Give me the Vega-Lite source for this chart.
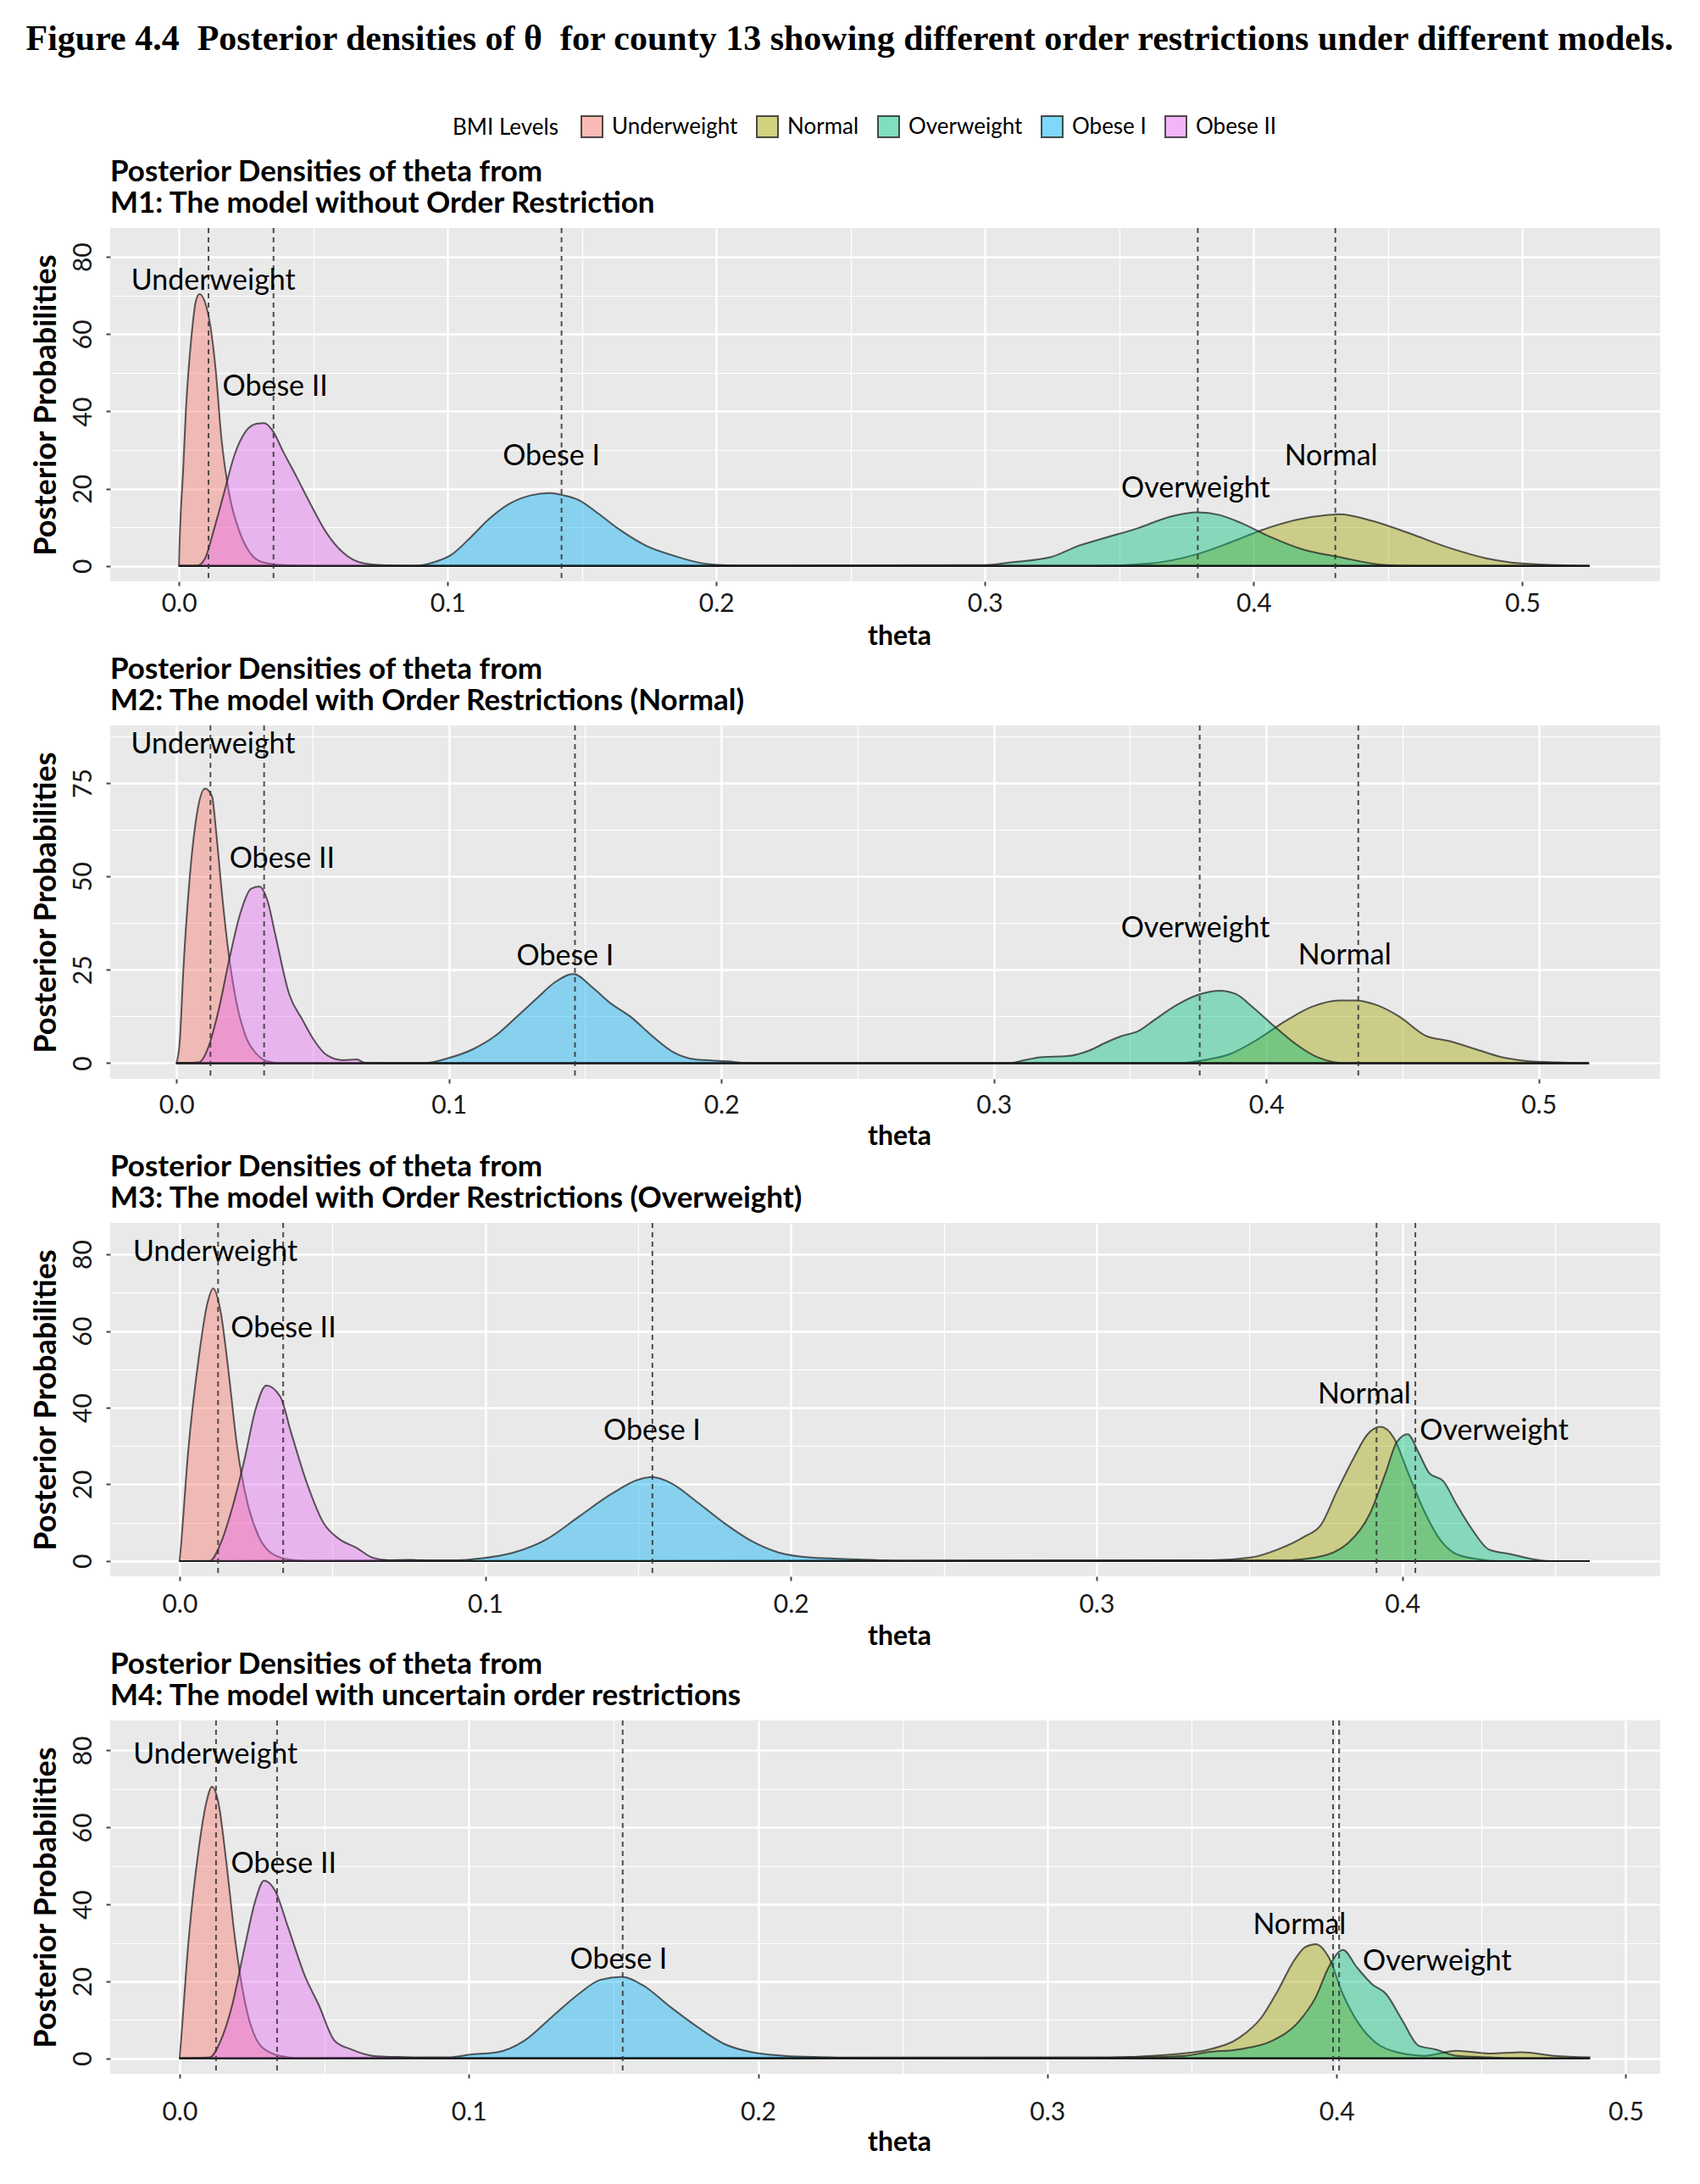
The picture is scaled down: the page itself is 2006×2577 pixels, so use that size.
{
  "$schema": "https://vega.github.io/schema/vega-lite/v6.json",
  "padding": {"left": 28, "top": 25, "right": 10, "bottom": 10},
  "background": "white",
  "title": {
    "text": "Figure 4.4\u00a0 Posterior densities of θ\u00a0 for county 13 showing different order restrictions under different models.",
    "font": "Liberation Serif",
    "fontSize": 42,
    "fontWeight": "bold",
    "color": "black",
    "anchor": "middle",
    "frame": "group",
    "dx": -42,
    "offset": 68
  },
  "spacing": 170,
  "bounds": "flush",
  "config": {
    "font": "Lato",
    "view": {"fill": "#E9E9E9", "stroke": null},
    "axis": {
      "domain": false,
      "gridColor": "#FFFFFF",
      "gridWidth": 2.4,
      "tickColor": "#444444",
      "tickSize": 5,
      "tickWidth": 2,
      "labelColor": "#1a1a1a",
      "labelFont": "Lato",
      "titleFont": "Lato",
      "titleFontWeight": "bold",
      "titleColor": "#000000"
    },
    "axisX": {"labelFontSize": 30, "labelPadding": 6, "titleFontSize": 32, "titlePadding": 8, "titleX": 931, "titleAlign": "center"},
    "axisY": {"labelFontSize": 30, "labelAngle": 270, "labelAlign": "center", "labelBaseline": "bottom", "labelPadding": 12, "titleFontSize": 36, "titlePadding": 10},
    "title": {"anchor": "start", "frame": "group", "fontSize": 35, "fontWeight": "bold", "font": "Lato", "color": "#000000", "lineHeight": 37, "offset": 10},
    "legend": {
      "direction": "horizontal",
      "titleOrient": "left",
      "titleFontSize": 26,
      "titleFontWeight": "normal",
      "titleColor": "#000000",
      "titleFont": "Lato",
      "titlePadding": 26,
      "labelFontSize": 26,
      "labelColor": "#000000",
      "labelFont": "Lato",
      "symbolType": "square",
      "symbolSize": 625,
      "symbolOpacity": 0.5,
      "symbolStrokeColor": "#222222",
      "symbolStrokeWidth": 2,
      "labelOffset": 10,
      "columnPadding": 18
    }
  },
  "datasets": {
    "dens": [
      {"model":"M1","level":"Underweight","theta":0,"density":0},
      {"model":"M1","level":"Underweight","theta":0.0002,"density":5.2},
      {"model":"M1","level":"Underweight","theta":0.0016,"density":25.4},
      {"model":"M1","level":"Underweight","theta":0.0026,"density":40.5},
      {"model":"M1","level":"Underweight","theta":0.0046,"density":59},
      {"model":"M1","level":"Underweight","theta":0.0062,"density":68.3},
      {"model":"M1","level":"Underweight","theta":0.0076,"density":70.4},
      {"model":"M1","level":"Underweight","theta":0.0107,"density":65.8},
      {"model":"M1","level":"Underweight","theta":0.0137,"density":50.6},
      {"model":"M1","level":"Underweight","theta":0.0157,"density":33.8},
      {"model":"M1","level":"Underweight","theta":0.0187,"density":18.7},
      {"model":"M1","level":"Underweight","theta":0.0227,"density":8.6},
      {"model":"M1","level":"Underweight","theta":0.0268,"density":3.1},
      {"model":"M1","level":"Underweight","theta":0.031,"density":1.0},
      {"model":"M1","level":"Underweight","theta":0.039,"density":0.2},
      {"model":"M1","level":"Underweight","theta":0.05,"density":0},
      {"model":"M1","level":"Underweight","theta":0.525,"density":0},

      {"model":"M1","level":"Normal","theta":0,"density":0},
      {"model":"M1","level":"Normal","theta":0.3408,"density":0},
      {"model":"M1","level":"Normal","theta":0.361,"density":0.6},
      {"model":"M1","level":"Normal","theta":0.3792,"density":3.1},
      {"model":"M1","level":"Normal","theta":0.3914,"density":6.1},
      {"model":"M1","level":"Normal","theta":0.4035,"density":9.4},
      {"model":"M1","level":"Normal","theta":0.4157,"density":11.9},
      {"model":"M1","level":"Normal","theta":0.4278,"density":13.2},
      {"model":"M1","level":"Normal","theta":0.4319,"density":13.4},
      {"model":"M1","level":"Normal","theta":0.444,"density":11.7},
      {"model":"M1","level":"Normal","theta":0.4582,"density":8.4},
      {"model":"M1","level":"Normal","theta":0.4723,"density":4.8},
      {"model":"M1","level":"Normal","theta":0.4865,"density":2.0},
      {"model":"M1","level":"Normal","theta":0.4987,"density":0.7},
      {"model":"M1","level":"Normal","theta":0.5128,"density":0.2},
      {"model":"M1","level":"Normal","theta":0.525,"density":0},

      {"model":"M1","level":"Overweight","theta":0,"density":0},
      {"model":"M1","level":"Overweight","theta":0.30,"density":0.2},
      {"model":"M1","level":"Overweight","theta":0.3104,"density":1.0},
      {"model":"M1","level":"Overweight","theta":0.3246,"density":2.3},
      {"model":"M1","level":"Overweight","theta":0.3347,"density":5.2},
      {"model":"M1","level":"Overweight","theta":0.3448,"density":7.3},
      {"model":"M1","level":"Overweight","theta":0.357,"density":9.8},
      {"model":"M1","level":"Overweight","theta":0.3691,"density":12.8},
      {"model":"M1","level":"Overweight","theta":0.3792,"density":13.9},
      {"model":"M1","level":"Overweight","theta":0.3873,"density":13.2},
      {"model":"M1","level":"Overweight","theta":0.3954,"density":11.1},
      {"model":"M1","level":"Overweight","theta":0.4056,"density":7.7},
      {"model":"M1","level":"Overweight","theta":0.4177,"density":4.4},
      {"model":"M1","level":"Overweight","theta":0.4319,"density":2.3},
      {"model":"M1","level":"Overweight","theta":0.448,"density":0.3},
      {"model":"M1","level":"Overweight","theta":0.46,"density":0},
      {"model":"M1","level":"Overweight","theta":0.525,"density":0},

      {"model":"M1","level":"Obese I","theta":0,"density":0},
      {"model":"M1","level":"Obese I","theta":0.087,"density":0},
      {"model":"M1","level":"Obese I","theta":0.095,"density":1.0},
      {"model":"M1","level":"Obese I","theta":0.101,"density":2.7},
      {"model":"M1","level":"Obese I","theta":0.109,"density":7.7},
      {"model":"M1","level":"Obese I","theta":0.115,"density":11.9},
      {"model":"M1","level":"Obese I","theta":0.123,"density":16.1},
      {"model":"M1","level":"Obese I","theta":0.131,"density":18.3},
      {"model":"M1","level":"Obese I","theta":0.138,"density":18.9},
      {"model":"M1","level":"Obese I","theta":0.143,"density":18.3},
      {"model":"M1","level":"Obese I","theta":0.149,"density":17.0},
      {"model":"M1","level":"Obese I","theta":0.156,"density":13.6},
      {"model":"M1","level":"Obese I","theta":0.164,"density":9.4},
      {"model":"M1","level":"Obese I","theta":0.174,"density":5.2},
      {"model":"M1","level":"Obese I","theta":0.184,"density":2.7},
      {"model":"M1","level":"Obese I","theta":0.194,"density":0.8},
      {"model":"M1","level":"Obese I","theta":0.202,"density":0.2},
      {"model":"M1","level":"Obese I","theta":0.21,"density":0},
      {"model":"M1","level":"Obese I","theta":0.525,"density":0},

      {"model":"M1","level":"Obese II","theta":0,"density":0},
      {"model":"M1","level":"Obese II","theta":0.0066,"density":0},
      {"model":"M1","level":"Obese II","theta":0.0097,"density":1.9},
      {"model":"M1","level":"Obese II","theta":0.0127,"density":8.6},
      {"model":"M1","level":"Obese II","theta":0.0167,"density":18.7},
      {"model":"M1","level":"Obese II","theta":0.0207,"density":28.8},
      {"model":"M1","level":"Obese II","theta":0.0247,"density":34.7},
      {"model":"M1","level":"Obese II","theta":0.0288,"density":36.8},
      {"model":"M1","level":"Obese II","theta":0.0318,"density":37.0},
      {"model":"M1","level":"Obese II","theta":0.0348,"density":35.1},
      {"model":"M1","level":"Obese II","theta":0.0388,"density":29.6},
      {"model":"M1","level":"Obese II","theta":0.0439,"density":22.9},
      {"model":"M1","level":"Obese II","theta":0.0489,"density":16.1},
      {"model":"M1","level":"Obese II","theta":0.0549,"density":8.6},
      {"model":"M1","level":"Obese II","theta":0.061,"density":3.5},
      {"model":"M1","level":"Obese II","theta":0.067,"density":1.0},
      {"model":"M1","level":"Obese II","theta":0.075,"density":0.2},
      {"model":"M1","level":"Obese II","theta":0.085,"density":0},
      {"model":"M1","level":"Obese II","theta":0.525,"density":0},

      {"model":"M2","level":"Underweight","theta":0,"density":0},
      {"model":"M2","level":"Underweight","theta":0.0012,"density":5.5},
      {"model":"M2","level":"Underweight","theta":0.0026,"density":25.5},
      {"model":"M2","level":"Underweight","theta":0.0046,"density":47.1},
      {"model":"M2","level":"Underweight","theta":0.0076,"density":67.0},
      {"model":"M2","level":"Underweight","theta":0.0105,"density":73.5},
      {"model":"M2","level":"Underweight","theta":0.0131,"density":71.4},
      {"model":"M2","level":"Underweight","theta":0.0145,"density":62.7},
      {"model":"M2","level":"Underweight","theta":0.0165,"density":47.1},
      {"model":"M2","level":"Underweight","theta":0.0191,"density":29.8},
      {"model":"M2","level":"Underweight","theta":0.0219,"density":16.8},
      {"model":"M2","level":"Underweight","theta":0.0254,"density":7.3},
      {"model":"M2","level":"Underweight","theta":0.0294,"density":2.5},
      {"model":"M2","level":"Underweight","theta":0.0334,"density":0.5},
      {"model":"M2","level":"Underweight","theta":0.038,"density":0},
      {"model":"M2","level":"Underweight","theta":0.5185,"density":0},

      {"model":"M2","level":"Normal","theta":0,"density":0},
      {"model":"M2","level":"Normal","theta":0.367,"density":0},
      {"model":"M2","level":"Normal","theta":0.377,"density":0.8},
      {"model":"M2","level":"Normal","theta":0.3869,"density":2.5},
      {"model":"M2","level":"Normal","theta":0.3969,"density":6.4},
      {"model":"M2","level":"Normal","theta":0.4069,"density":11.2},
      {"model":"M2","level":"Normal","theta":0.4168,"density":15.1},
      {"model":"M2","level":"Normal","theta":0.4268,"density":16.8},
      {"model":"M2","level":"Normal","theta":0.4328,"density":16.8},
      {"model":"M2","level":"Normal","theta":0.4408,"density":15.5},
      {"model":"M2","level":"Normal","theta":0.4488,"density":12.5},
      {"model":"M2","level":"Normal","theta":0.4587,"density":7.3},
      {"model":"M2","level":"Normal","theta":0.4667,"density":6.0},
      {"model":"M2","level":"Normal","theta":0.4767,"density":3.8},
      {"model":"M2","level":"Normal","theta":0.4866,"density":1.6},
      {"model":"M2","level":"Normal","theta":0.4966,"density":0.5},
      {"model":"M2","level":"Normal","theta":0.5066,"density":0.2},
      {"model":"M2","level":"Normal","theta":0.5185,"density":0},

      {"model":"M2","level":"Overweight","theta":0,"density":0},
      {"model":"M2","level":"Overweight","theta":0.3052,"density":0},
      {"model":"M2","level":"Overweight","theta":0.3112,"density":0.8},
      {"model":"M2","level":"Overweight","theta":0.3171,"density":1.6},
      {"model":"M2","level":"Overweight","theta":0.3271,"density":1.9},
      {"model":"M2","level":"Overweight","theta":0.3351,"density":3.4},
      {"model":"M2","level":"Overweight","theta":0.3411,"density":5.5},
      {"model":"M2","level":"Overweight","theta":0.3471,"density":7.3},
      {"model":"M2","level":"Overweight","theta":0.353,"density":8.6},
      {"model":"M2","level":"Overweight","theta":0.359,"density":11.6},
      {"model":"M2","level":"Overweight","theta":0.367,"density":15.5},
      {"model":"M2","level":"Overweight","theta":0.375,"density":18.3},
      {"model":"M2","level":"Overweight","theta":0.383,"density":19.4},
      {"model":"M2","level":"Overweight","theta":0.3889,"density":18.5},
      {"model":"M2","level":"Overweight","theta":0.3949,"density":15.1},
      {"model":"M2","level":"Overweight","theta":0.4029,"density":9.9},
      {"model":"M2","level":"Overweight","theta":0.4109,"density":5.1},
      {"model":"M2","level":"Overweight","theta":0.4188,"density":1.6},
      {"model":"M2","level":"Overweight","theta":0.4248,"density":0.3},
      {"model":"M2","level":"Overweight","theta":0.43,"density":0},
      {"model":"M2","level":"Overweight","theta":0.5185,"density":0},

      {"model":"M2","level":"Obese I","theta":0,"density":0},
      {"model":"M2","level":"Obese I","theta":0.091,"density":0},
      {"model":"M2","level":"Obese I","theta":0.099,"density":1.2},
      {"model":"M2","level":"Obese I","theta":0.109,"density":3.8},
      {"model":"M2","level":"Obese I","theta":0.117,"density":7.3},
      {"model":"M2","level":"Obese I","theta":0.125,"density":12.5},
      {"model":"M2","level":"Obese I","theta":0.1328,"density":17.7},
      {"model":"M2","level":"Obese I","theta":0.1388,"density":21.6},
      {"model":"M2","level":"Obese I","theta":0.1457,"density":23.9},
      {"model":"M2","level":"Obese I","theta":0.1527,"density":20.3},
      {"model":"M2","level":"Obese I","theta":0.1596,"density":15.9},
      {"model":"M2","level":"Obese I","theta":0.1666,"density":12.5},
      {"model":"M2","level":"Obese I","theta":0.1746,"density":7.3},
      {"model":"M2","level":"Obese I","theta":0.1825,"density":2.9},
      {"model":"M2","level":"Obese I","theta":0.1905,"density":1.0},
      {"model":"M2","level":"Obese I","theta":0.2024,"density":0.5},
      {"model":"M2","level":"Obese I","theta":0.21,"density":0},
      {"model":"M2","level":"Obese I","theta":0.5185,"density":0},

      {"model":"M2","level":"Obese II","theta":0,"density":0},
      {"model":"M2","level":"Obese II","theta":0.0085,"density":0.3},
      {"model":"M2","level":"Obese II","theta":0.0115,"density":3.8},
      {"model":"M2","level":"Obese II","theta":0.0155,"density":14.2},
      {"model":"M2","level":"Obese II","theta":0.0195,"density":28.1},
      {"model":"M2","level":"Obese II","theta":0.0235,"density":40.2},
      {"model":"M2","level":"Obese II","theta":0.0274,"density":46.7},
      {"model":"M2","level":"Obese II","theta":0.0304,"density":47.3},
      {"model":"M2","level":"Obese II","theta":0.0334,"density":43.6},
      {"model":"M2","level":"Obese II","theta":0.0364,"density":34.1},
      {"model":"M2","level":"Obese II","theta":0.0414,"density":18.5},
      {"model":"M2","level":"Obese II","theta":0.0463,"density":11.6},
      {"model":"M2","level":"Obese II","theta":0.0503,"density":6.4},
      {"model":"M2","level":"Obese II","theta":0.0553,"density":2.1},
      {"model":"M2","level":"Obese II","theta":0.0612,"density":0.8},
      {"model":"M2","level":"Obese II","theta":0.0662,"density":1.0},
      {"model":"M2","level":"Obese II","theta":0.0692,"density":0.1},
      {"model":"M2","level":"Obese II","theta":0.075,"density":0},
      {"model":"M2","level":"Obese II","theta":0.5185,"density":0},

      {"model":"M3","level":"Underweight","theta":0,"density":0},
      {"model":"M3","level":"Underweight","theta":0.0004,"density":3.5},
      {"model":"M3","level":"Underweight","theta":0.0028,"density":28.4},
      {"model":"M3","level":"Underweight","theta":0.0064,"density":53.8},
      {"model":"M3","level":"Underweight","theta":0.0089,"density":66.5},
      {"model":"M3","level":"Underweight","theta":0.011,"density":71.1},
      {"model":"M3","level":"Underweight","theta":0.0135,"density":64.8},
      {"model":"M3","level":"Underweight","theta":0.016,"density":49.6},
      {"model":"M3","level":"Underweight","theta":0.0188,"density":30.1},
      {"model":"M3","level":"Underweight","theta":0.0223,"density":14.9},
      {"model":"M3","level":"Underweight","theta":0.0259,"density":6.4},
      {"model":"M3","level":"Underweight","theta":0.0305,"density":1.8},
      {"model":"M3","level":"Underweight","theta":0.0365,"density":0.3},
      {"model":"M3","level":"Underweight","theta":0.042,"density":0},
      {"model":"M3","level":"Underweight","theta":0.4613,"density":0},

      {"model":"M3","level":"Normal","theta":0,"density":0},
      {"model":"M3","level":"Normal","theta":0.338,"density":0.2},
      {"model":"M3","level":"Normal","theta":0.3504,"density":0.9},
      {"model":"M3","level":"Normal","theta":0.3592,"density":3.0},
      {"model":"M3","level":"Normal","theta":0.3681,"density":6.4},
      {"model":"M3","level":"Normal","theta":0.3734,"density":9.4},
      {"model":"M3","level":"Normal","theta":0.3787,"density":18.3},
      {"model":"M3","level":"Normal","theta":0.384,"density":26.7},
      {"model":"M3","level":"Normal","theta":0.3887,"density":33.1},
      {"model":"M3","level":"Normal","theta":0.3929,"density":35.0},
      {"model":"M3","level":"Normal","theta":0.3972,"density":32.2},
      {"model":"M3","level":"Normal","theta":0.4018,"density":23.3},
      {"model":"M3","level":"Normal","theta":0.4071,"density":13.2},
      {"model":"M3","level":"Normal","theta":0.4124,"density":5.6},
      {"model":"M3","level":"Normal","theta":0.4177,"density":1.8},
      {"model":"M3","level":"Normal","theta":0.4248,"density":0.5},
      {"model":"M3","level":"Normal","theta":0.432,"density":0},
      {"model":"M3","level":"Normal","theta":0.4613,"density":0},

      {"model":"M3","level":"Overweight","theta":0,"density":0},
      {"model":"M3","level":"Overweight","theta":0.361,"density":0.2},
      {"model":"M3","level":"Overweight","theta":0.3716,"density":0.9},
      {"model":"M3","level":"Overweight","theta":0.3823,"density":4.7},
      {"model":"M3","level":"Overweight","theta":0.3894,"density":12.3},
      {"model":"M3","level":"Overweight","theta":0.3947,"density":23.3},
      {"model":"M3","level":"Overweight","theta":0.3982,"density":31.0},
      {"model":"M3","level":"Overweight","theta":0.4018,"density":33.1},
      {"model":"M3","level":"Overweight","theta":0.4053,"density":28.4},
      {"model":"M3","level":"Overweight","theta":0.4089,"density":22.9},
      {"model":"M3","level":"Overweight","theta":0.4135,"density":20.8},
      {"model":"M3","level":"Overweight","theta":0.4177,"density":14.9},
      {"model":"M3","level":"Overweight","theta":0.423,"density":8.1},
      {"model":"M3","level":"Overweight","theta":0.4284,"density":3.0},
      {"model":"M3","level":"Overweight","theta":0.4355,"density":1.8},
      {"model":"M3","level":"Overweight","theta":0.4426,"density":0.5},
      {"model":"M3","level":"Overweight","theta":0.448,"density":0},
      {"model":"M3","level":"Overweight","theta":0.4613,"density":0},

      {"model":"M3","level":"Obese I","theta":0,"density":0},
      {"model":"M3","level":"Obese I","theta":0.0915,"density":0.2},
      {"model":"M3","level":"Obese I","theta":0.0986,"density":0.7},
      {"model":"M3","level":"Obese I","theta":0.1092,"density":2.2},
      {"model":"M3","level":"Obese I","theta":0.1199,"density":5.6},
      {"model":"M3","level":"Obese I","theta":0.1305,"density":11.5},
      {"model":"M3","level":"Obese I","theta":0.1411,"density":17.4},
      {"model":"M3","level":"Obese I","theta":0.15,"density":21.2},
      {"model":"M3","level":"Obese I","theta":0.1546,"density":21.9},
      {"model":"M3","level":"Obese I","theta":0.1606,"density":20.4},
      {"model":"M3","level":"Obese I","theta":0.1695,"density":15.3},
      {"model":"M3","level":"Obese I","theta":0.1784,"density":9.8},
      {"model":"M3","level":"Obese I","theta":0.1872,"density":5.2},
      {"model":"M3","level":"Obese I","theta":0.1961,"density":2.2},
      {"model":"M3","level":"Obese I","theta":0.2067,"density":0.9},
      {"model":"M3","level":"Obese I","theta":0.2191,"density":0.5},
      {"model":"M3","level":"Obese I","theta":0.2262,"density":0.3},
      {"model":"M3","level":"Obese I","theta":0.235,"density":0},
      {"model":"M3","level":"Obese I","theta":0.4613,"density":0},

      {"model":"M3","level":"Obese II","theta":0,"density":0},
      {"model":"M3","level":"Obese II","theta":0.0099,"density":0},
      {"model":"M3","level":"Obese II","theta":0.0135,"density":4.7},
      {"model":"M3","level":"Obese II","theta":0.017,"density":13.2},
      {"model":"M3","level":"Obese II","theta":0.0213,"density":26.7},
      {"model":"M3","level":"Obese II","theta":0.0248,"density":39.4},
      {"model":"M3","level":"Obese II","theta":0.0284,"density":45.8},
      {"model":"M3","level":"Obese II","theta":0.033,"density":42.8},
      {"model":"M3","level":"Obese II","theta":0.0365,"density":33.5},
      {"model":"M3","level":"Obese II","theta":0.0418,"density":20.0},
      {"model":"M3","level":"Obese II","theta":0.0472,"density":9.8},
      {"model":"M3","level":"Obese II","theta":0.0525,"density":5.6},
      {"model":"M3","level":"Obese II","theta":0.0578,"density":3.5},
      {"model":"M3","level":"Obese II","theta":0.0631,"density":0.9},
      {"model":"M3","level":"Obese II","theta":0.0684,"density":0.2},
      {"model":"M3","level":"Obese II","theta":0.0755,"density":0.3},
      {"model":"M3","level":"Obese II","theta":0.082,"density":0},
      {"model":"M3","level":"Obese II","theta":0.4613,"density":0},

      {"model":"M4","level":"Underweight","theta":0,"density":0},
      {"model":"M4","level":"Underweight","theta":0.0004,"density":3.7},
      {"model":"M4","level":"Underweight","theta":0.003,"density":29.7},
      {"model":"M4","level":"Underweight","theta":0.0067,"density":54.9},
      {"model":"M4","level":"Underweight","theta":0.0094,"density":67.0},
      {"model":"M4","level":"Underweight","theta":0.0112,"density":70.6},
      {"model":"M4","level":"Underweight","theta":0.0135,"density":66.1},
      {"model":"M4","level":"Underweight","theta":0.0161,"density":51.4},
      {"model":"M4","level":"Underweight","theta":0.0191,"density":31.5},
      {"model":"M4","level":"Underweight","theta":0.0225,"density":15.0},
      {"model":"M4","level":"Underweight","theta":0.0262,"density":5.5},
      {"model":"M4","level":"Underweight","theta":0.0311,"density":1.6},
      {"model":"M4","level":"Underweight","theta":0.0375,"density":0.3},
      {"model":"M4","level":"Underweight","theta":0.042,"density":0},
      {"model":"M4","level":"Underweight","theta":0.4875,"density":0},

      {"model":"M4","level":"Normal","theta":0,"density":0},
      {"model":"M4","level":"Normal","theta":0.3141,"density":0.1},
      {"model":"M4","level":"Normal","theta":0.3291,"density":0.4},
      {"model":"M4","level":"Normal","theta":0.3441,"density":1.1},
      {"model":"M4","level":"Normal","theta":0.3553,"density":2.2},
      {"model":"M4","level":"Normal","theta":0.3666,"density":5.5},
      {"model":"M4","level":"Normal","theta":0.3741,"density":10.7},
      {"model":"M4","level":"Normal","theta":0.3797,"density":17.6},
      {"model":"M4","level":"Normal","theta":0.3853,"density":25.4},
      {"model":"M4","level":"Normal","theta":0.3891,"density":28.9},
      {"model":"M4","level":"Normal","theta":0.3928,"density":29.7},
      {"model":"M4","level":"Normal","theta":0.3973,"density":26.3},
      {"model":"M4","level":"Normal","theta":0.4022,"density":16.7},
      {"model":"M4","level":"Normal","theta":0.4078,"density":8.9},
      {"model":"M4","level":"Normal","theta":0.4134,"density":4.2},
      {"model":"M4","level":"Normal","theta":0.4209,"density":1.6},
      {"model":"M4","level":"Normal","theta":0.4303,"density":0.7},
      {"model":"M4","level":"Normal","theta":0.4415,"density":2.0},
      {"model":"M4","level":"Normal","theta":0.4528,"density":1.3},
      {"model":"M4","level":"Normal","theta":0.464,"density":1.6},
      {"model":"M4","level":"Normal","theta":0.4753,"density":0.7},
      {"model":"M4","level":"Normal","theta":0.4875,"density":0.3},

      {"model":"M4","level":"Overweight","theta":0,"density":0},
      {"model":"M4","level":"Overweight","theta":0.3328,"density":0.3},
      {"model":"M4","level":"Overweight","theta":0.3478,"density":0.7},
      {"model":"M4","level":"Overweight","theta":0.3553,"density":1.6},
      {"model":"M4","level":"Overweight","theta":0.3666,"density":2.4},
      {"model":"M4","level":"Overweight","theta":0.3778,"density":4.6},
      {"model":"M4","level":"Overweight","theta":0.3872,"density":9.8},
      {"model":"M4","level":"Overweight","theta":0.3928,"density":15.9},
      {"model":"M4","level":"Overweight","theta":0.3973,"density":23.7},
      {"model":"M4","level":"Overweight","theta":0.4022,"density":28.2},
      {"model":"M4","level":"Overweight","theta":0.407,"density":23.7},
      {"model":"M4","level":"Overweight","theta":0.4123,"density":19.3},
      {"model":"M4","level":"Overweight","theta":0.4172,"density":16.7},
      {"model":"M4","level":"Overweight","theta":0.4228,"density":9.8},
      {"model":"M4","level":"Overweight","theta":0.4284,"density":3.3},
      {"model":"M4","level":"Overweight","theta":0.434,"density":2.4},
      {"model":"M4","level":"Overweight","theta":0.4415,"density":0.7},
      {"model":"M4","level":"Overweight","theta":0.4528,"density":0.3},
      {"model":"M4","level":"Overweight","theta":0.46,"density":0},
      {"model":"M4","level":"Overweight","theta":0.4875,"density":0},

      {"model":"M4","level":"Obese I","theta":0,"density":0},
      {"model":"M4","level":"Obese I","theta":0.093,"density":0.3},
      {"model":"M4","level":"Obese I","theta":0.1005,"density":1.0},
      {"model":"M4","level":"Obese I","theta":0.1098,"density":1.6},
      {"model":"M4","level":"Obese I","theta":0.1192,"density":4.6},
      {"model":"M4","level":"Obese I","theta":0.1286,"density":10.7},
      {"model":"M4","level":"Obese I","theta":0.1379,"density":16.7},
      {"model":"M4","level":"Obese I","theta":0.1454,"density":20.4},
      {"model":"M4","level":"Obese I","theta":0.1529,"density":21.2},
      {"model":"M4","level":"Obese I","theta":0.1604,"density":18.9},
      {"model":"M4","level":"Obese I","theta":0.1698,"density":13.3},
      {"model":"M4","level":"Obese I","theta":0.1792,"density":8.1},
      {"model":"M4","level":"Obese I","theta":0.1885,"density":3.7},
      {"model":"M4","level":"Obese I","theta":0.1979,"density":1.6},
      {"model":"M4","level":"Obese I","theta":0.2091,"density":0.7},
      {"model":"M4","level":"Obese I","theta":0.2241,"density":0.3},
      {"model":"M4","level":"Obese I","theta":0.235,"density":0},
      {"model":"M4","level":"Obese I","theta":0.4875,"density":0},

      {"model":"M4","level":"Obese II","theta":0,"density":0},
      {"model":"M4","level":"Obese II","theta":0.0105,"density":0.3},
      {"model":"M4","level":"Obese II","theta":0.0142,"density":4.6},
      {"model":"M4","level":"Obese II","theta":0.018,"density":13.3},
      {"model":"M4","level":"Obese II","theta":0.0225,"density":28.9},
      {"model":"M4","level":"Obese II","theta":0.0262,"density":41.0},
      {"model":"M4","level":"Obese II","theta":0.0292,"density":46.2},
      {"model":"M4","level":"Obese II","theta":0.033,"density":43.6},
      {"model":"M4","level":"Obese II","theta":0.0375,"density":34.1},
      {"model":"M4","level":"Obese II","theta":0.0435,"density":21.1},
      {"model":"M4","level":"Obese II","theta":0.048,"density":14.1},
      {"model":"M4","level":"Obese II","theta":0.0536,"density":4.6},
      {"model":"M4","level":"Obese II","theta":0.0592,"density":2.4},
      {"model":"M4","level":"Obese II","theta":0.0667,"density":0.7},
      {"model":"M4","level":"Obese II","theta":0.078,"density":0.3},
      {"model":"M4","level":"Obese II","theta":0.09,"density":0},
      {"model":"M4","level":"Obese II","theta":0.4875,"density":0}
    ],
    "means": [
      {"model":"M1","level":"Underweight","theta":0.011},
      {"model":"M1","level":"Obese II","theta":0.0352},
      {"model":"M1","level":"Obese I","theta":0.1424},
      {"model":"M1","level":"Overweight","theta":0.3792},
      {"model":"M1","level":"Normal","theta":0.4304},
      {"model":"M2","level":"Underweight","theta":0.0125},
      {"model":"M2","level":"Obese II","theta":0.0322},
      {"model":"M2","level":"Obese I","theta":0.1463},
      {"model":"M2","level":"Overweight","theta":0.3756},
      {"model":"M2","level":"Normal","theta":0.4338},
      {"model":"M3","level":"Underweight","theta":0.0126},
      {"model":"M3","level":"Obese II","theta":0.0339},
      {"model":"M3","level":"Obese I","theta":0.1547},
      {"model":"M3","level":"Normal","theta":0.3916},
      {"model":"M3","level":"Overweight","theta":0.4043},
      {"model":"M4","level":"Underweight","theta":0.0126},
      {"model":"M4","level":"Obese II","theta":0.0337},
      {"model":"M4","level":"Obese I","theta":0.1532},
      {"model":"M4","level":"Normal","theta":0.3988},
      {"model":"M4","level":"Overweight","theta":0.4009}
    ],
    "labels": [
      {"model":"M1","level":"Underweight","theta":0.0128,"ypos":73.7},
      {"model":"M1","level":"Obese II","theta":0.0358,"ypos":46.2},
      {"model":"M1","level":"Obese I","theta":0.1386,"ypos":28.2},
      {"model":"M1","level":"Overweight","theta":0.3784,"ypos":20.0},
      {"model":"M1","level":"Normal","theta":0.4288,"ypos":28.2},
      {"model":"M2","level":"Underweight","theta":0.0135,"ypos":85.1},
      {"model":"M2","level":"Obese II","theta":0.0388,"ypos":54.6},
      {"model":"M2","level":"Obese I","theta":0.1427,"ypos":28.4},
      {"model":"M2","level":"Overweight","theta":0.374,"ypos":36.0},
      {"model":"M2","level":"Normal","theta":0.4288,"ypos":28.6},
      {"model":"M3","level":"Underweight","theta":0.0117,"ypos":80.4},
      {"model":"M3","level":"Obese II","theta":0.034,"ypos":60.5},
      {"model":"M3","level":"Obese I","theta":0.1546,"ypos":33.9},
      {"model":"M3","level":"Normal","theta":0.3876,"ypos":43.4},
      {"model":"M3","level":"Overweight","theta":0.4301,"ypos":33.7},
      {"model":"M4","level":"Underweight","theta":0.0124,"ypos":78.7},
      {"model":"M4","level":"Obese II","theta":0.036,"ypos":50.3},
      {"model":"M4","level":"Obese I","theta":0.1518,"ypos":25.4},
      {"model":"M4","level":"Normal","theta":0.3872,"ypos":34.5},
      {"model":"M4","level":"Overweight","theta":0.4348,"ypos":25.0}
    ]
  },
  "vconcat": [
    {
      "width": 1829, "height": 417,
      "title": {"text": ["Posterior Densities of theta from", "M1: The model without Order Restriction"]},
      "layer": [
        {
          "data": {"name": "dens"},
          "transform": [{"filter": "datum.model == 'M1'"}],
          "mark": {"type": "area", "interpolate": "monotone", "fillOpacity": 0.42, "stroke": "#1a1a1a", "strokeOpacity": 0.7, "strokeWidth": 2},
          "encoding": {
            "x": {"field": "theta", "type": "quantitative", "scale": {"domain": [-0.0256, 0.5513], "nice": false, "zero": false}, "axis": {"values": [0, 0.1, 0.2, 0.3, 0.4, 0.5], "format": ".1f", "title": "theta", "labelPadding": 6, "titlePadding": 8}},
            "y": {"field": "density", "type": "quantitative", "stack": null, "scale": {"domain": [-4.0, 87.5], "nice": false, "zero": false}, "axis": {"values": [0, 20, 40, 60, 80], "format": "d", "title": "Posterior Probabilities"}},
            "color": {"field": "level", "type": "nominal", "scale": {"domain": ["Underweight", "Normal", "Overweight", "Obese I", "Obese II"], "range": ["#F8766D", "#A3A500", "#00BF7D", "#00B0F6", "#E76BF3"]},
              "legend": {"title": "BMI Levels", "orient": "none", "legendX": 404, "legendY": -133,
                "encode": {"symbols": {"update": {"opacity": {"value": 1}, "fillOpacity": {"value": 0.5}, "strokeOpacity": {"value": 0.8}, "stroke": {"value": "#222222"}, "strokeWidth": {"value": 2}}}}}}
          }
        },
        {
          "data": {"name": "means"},
          "transform": [{"filter": "datum.model == 'M1'"}],
          "mark": {"type": "rule", "color": "#333333", "strokeWidth": 2, "strokeDash": [6, 5], "opacity": 0.85},
          "encoding": {
            "x": {"field": "theta", "type": "quantitative", "axis": {"orient": "top", "values": [0.05, 0.15, 0.25, 0.35, 0.45], "grid": true, "gridWidth": 1.2, "labels": false, "ticks": false, "title": null}}
          }
        },
        {
          "data": {"name": "labels"},
          "transform": [{"filter": "datum.model == 'M1'"}],
          "mark": {"type": "text", "font": "Lato", "fontSize": 34, "color": "#000000", "align": "center", "baseline": "middle"},
          "encoding": {
            "x": {"field": "theta", "type": "quantitative", "axis": null},
            "y": {"field": "ypos", "type": "quantitative", "axis": {"orient": "right", "values": [10, 30, 50, 70], "grid": true, "gridWidth": 1.2, "labels": false, "ticks": false, "title": null}},
            "text": {"field": "level"}
          }
        }
      ],
      "resolve": {"axis": {"x": "independent", "y": "independent"}}
    },
    {
      "width": 1829, "height": 417,
      "title": {"text": ["Posterior Densities of theta from", "M2: The model with Order Restrictions (Normal)"]},
      "layer": [
        {
          "data": {"name": "dens"},
          "transform": [{"filter": "datum.model == 'M2'"}],
          "mark": {"type": "area", "interpolate": "monotone", "fillOpacity": 0.42, "stroke": "#1a1a1a", "strokeOpacity": 0.7, "strokeWidth": 2},
          "encoding": {
            "x": {"field": "theta", "type": "quantitative", "scale": {"domain": [-0.0243, 0.5446], "nice": false, "zero": false}, "axis": {"values": [0, 0.1, 0.2, 0.3, 0.4, 0.5], "format": ".1f", "title": "theta", "labelPadding": 11, "titlePadding": 6}},
            "y": {"field": "density", "type": "quantitative", "stack": null, "scale": {"domain": [-4.2, 90.4], "nice": false, "zero": false}, "axis": {"values": [0, 25, 50, 75], "format": "d", "title": "Posterior Probabilities"}},
            "color": {"field": "level", "type": "nominal"}
          }
        },
        {
          "data": {"name": "means"},
          "transform": [{"filter": "datum.model == 'M2'"}],
          "mark": {"type": "rule", "color": "#333333", "strokeWidth": 2, "strokeDash": [6, 5], "opacity": 0.85},
          "encoding": {
            "x": {"field": "theta", "type": "quantitative", "axis": {"orient": "top", "values": [0.05, 0.15, 0.25, 0.35, 0.45], "grid": true, "gridWidth": 1.2, "labels": false, "ticks": false, "title": null}}
          }
        },
        {
          "data": {"name": "labels"},
          "transform": [{"filter": "datum.model == 'M2'"}],
          "mark": {"type": "text", "font": "Lato", "fontSize": 34, "color": "#000000", "align": "center", "baseline": "middle"},
          "encoding": {
            "x": {"field": "theta", "type": "quantitative", "axis": null},
            "y": {"field": "ypos", "type": "quantitative", "axis": {"orient": "right", "values": [12.5, 37.5, 62.5, 87.5], "grid": true, "gridWidth": 1.2, "labels": false, "ticks": false, "title": null}},
            "text": {"field": "level"}
          }
        }
      ],
      "resolve": {"axis": {"x": "independent", "y": "independent"}}
    },
    {
      "width": 1829, "height": 417,
      "title": {"text": ["Posterior Densities of theta from", "M3: The model with Order Restrictions (Overweight)"]},
      "layer": [
        {
          "data": {"name": "dens"},
          "transform": [{"filter": "datum.model == 'M3'"}],
          "mark": {"type": "area", "interpolate": "monotone", "fillOpacity": 0.42, "stroke": "#1a1a1a", "strokeOpacity": 0.7, "strokeWidth": 2},
          "encoding": {
            "x": {"field": "theta", "type": "quantitative", "scale": {"domain": [-0.0227, 0.4844], "nice": false, "zero": false}, "axis": {"values": [0, 0.1, 0.2, 0.3, 0.4], "format": ".1f", "title": "theta", "labelPadding": 13, "titlePadding": 7}},
            "y": {"field": "density", "type": "quantitative", "stack": null, "scale": {"domain": [-4.0, 88.2], "nice": false, "zero": false}, "axis": {"values": [0, 20, 40, 60, 80], "format": "d", "title": "Posterior Probabilities"}},
            "color": {"field": "level", "type": "nominal"}
          }
        },
        {
          "data": {"name": "means"},
          "transform": [{"filter": "datum.model == 'M3'"}],
          "mark": {"type": "rule", "color": "#333333", "strokeWidth": 2, "strokeDash": [6, 5], "opacity": 0.85},
          "encoding": {
            "x": {"field": "theta", "type": "quantitative", "axis": {"orient": "top", "values": [0.05, 0.15, 0.25, 0.35, 0.45], "grid": true, "gridWidth": 1.2, "labels": false, "ticks": false, "title": null}}
          }
        },
        {
          "data": {"name": "labels"},
          "transform": [{"filter": "datum.model == 'M3'"}],
          "mark": {"type": "text", "font": "Lato", "fontSize": 34, "color": "#000000", "align": "center", "baseline": "middle"},
          "encoding": {
            "x": {"field": "theta", "type": "quantitative", "axis": null},
            "y": {"field": "ypos", "type": "quantitative", "axis": {"orient": "right", "values": [10, 30, 50, 70], "grid": true, "gridWidth": 1.2, "labels": false, "ticks": false, "title": null}},
            "text": {"field": "level"}
          }
        }
      ],
      "resolve": {"axis": {"x": "independent", "y": "independent"}}
    },
    {
      "width": 1829, "height": 417,
      "title": {"text": ["Posterior Densities of theta from", "M4: The model with uncertain order restrictions"]},
      "layer": [
        {
          "data": {"name": "dens"},
          "transform": [{"filter": "datum.model == 'M4'"}],
          "mark": {"type": "area", "interpolate": "monotone", "fillOpacity": 0.42, "stroke": "#1a1a1a", "strokeOpacity": 0.7, "strokeWidth": 2},
          "encoding": {
            "x": {"field": "theta", "type": "quantitative", "scale": {"domain": [-0.024, 0.5119], "nice": false, "zero": false}, "axis": {"values": [0, 0.1, 0.2, 0.3, 0.4, 0.5], "format": ".1f", "title": "theta", "labelPadding": 25, "titlePadding": 5}},
            "y": {"field": "density", "type": "quantitative", "stack": null, "scale": {"domain": [-4.0, 87.8], "nice": false, "zero": false}, "axis": {"values": [0, 20, 40, 60, 80], "format": "d", "title": "Posterior Probabilities"}},
            "color": {"field": "level", "type": "nominal"}
          }
        },
        {
          "data": {"name": "means"},
          "transform": [{"filter": "datum.model == 'M4'"}],
          "mark": {"type": "rule", "color": "#333333", "strokeWidth": 2, "strokeDash": [6, 5], "opacity": 0.85},
          "encoding": {
            "x": {"field": "theta", "type": "quantitative", "axis": {"orient": "top", "values": [0.05, 0.15, 0.25, 0.35, 0.45], "grid": true, "gridWidth": 1.2, "labels": false, "ticks": false, "title": null}}
          }
        },
        {
          "data": {"name": "labels"},
          "transform": [{"filter": "datum.model == 'M4'"}],
          "mark": {"type": "text", "font": "Lato", "fontSize": 34, "color": "#000000", "align": "center", "baseline": "middle"},
          "encoding": {
            "x": {"field": "theta", "type": "quantitative", "axis": null},
            "y": {"field": "ypos", "type": "quantitative", "axis": {"orient": "right", "values": [10, 30, 50, 70], "grid": true, "gridWidth": 1.2, "labels": false, "ticks": false, "title": null}},
            "text": {"field": "level"}
          }
        }
      ],
      "resolve": {"axis": {"x": "independent", "y": "independent"}}
    }
  ]
}
